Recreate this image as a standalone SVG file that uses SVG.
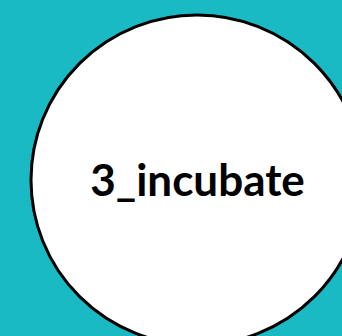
<svg xmlns="http://www.w3.org/2000/svg" width="342" height="336" viewBox="0 0 342 336">
<style>
.node{fill:#ffffff;stroke:#000000;stroke-width:3}
.label{font-family:"Lato","Liberation Sans",sans-serif;font-weight:bold;font-size:44px;fill:#000000;text-anchor:middle}
</style>
<rect x="0" y="0" width="342" height="336" fill="#19BAC4"/>
<g id="connectors"></g>
<g id="node-3_incubate">
<ellipse class="node" cx="197" cy="180" rx="166" ry="165"/>
<text class="label" x="197.5" y="196">3_incubate</text>
</g>
</svg>
